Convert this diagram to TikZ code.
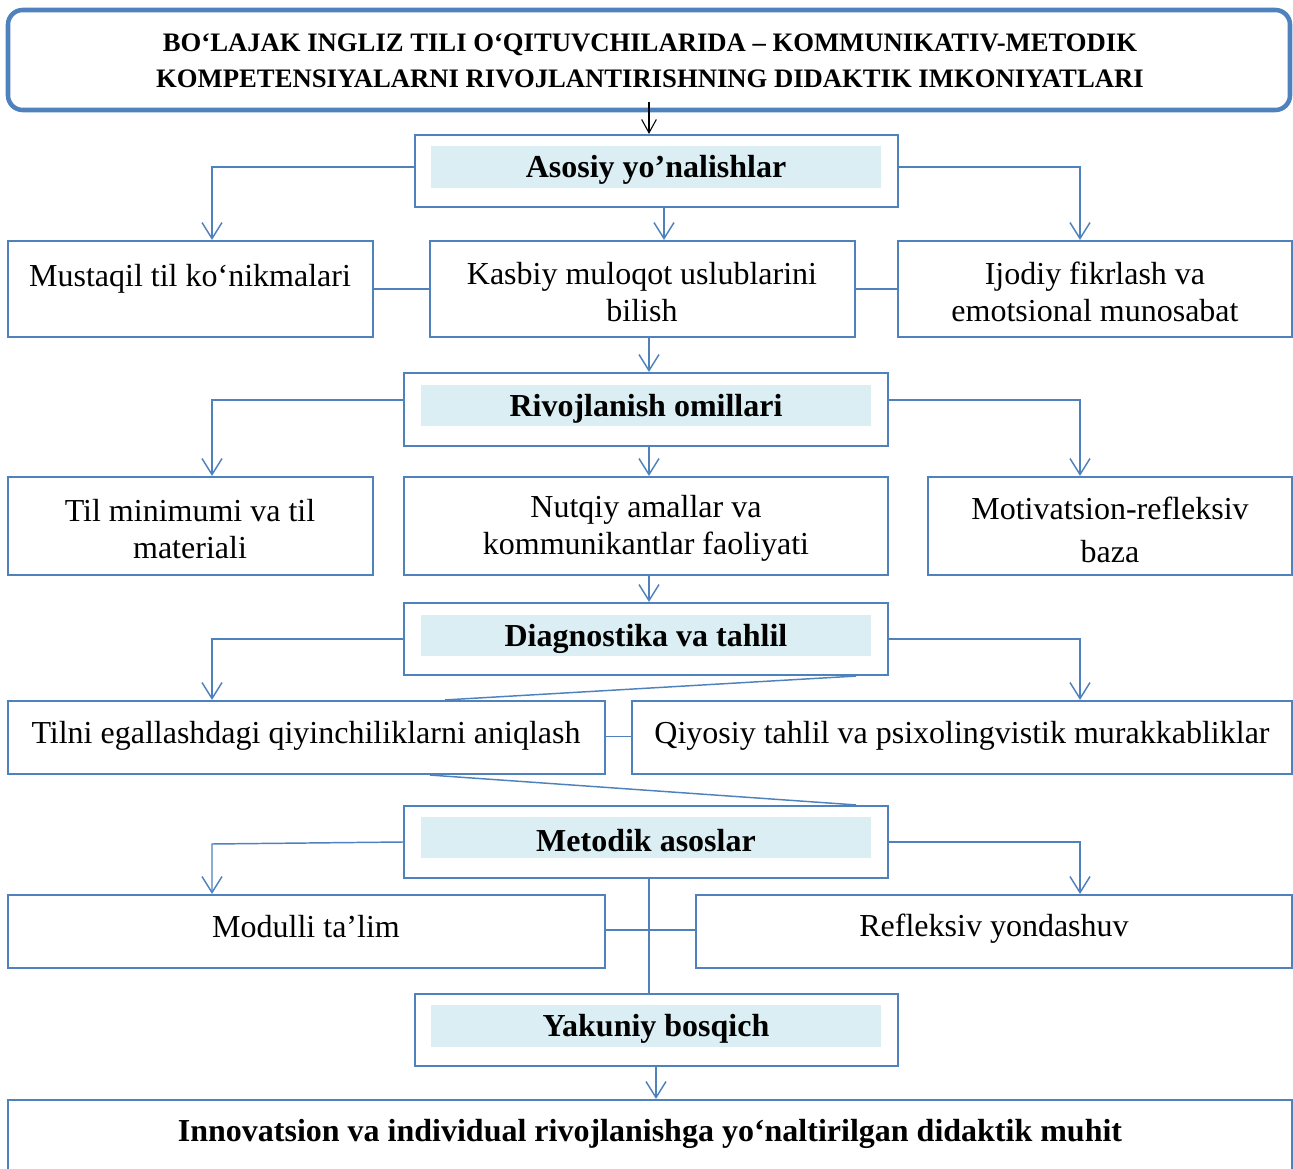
\documentclass[tikz,border=0pt]{standalone}
\usepackage{fontspec}
\setmainfont{Liberation Serif}
\usetikzlibrary{arrows.meta,fit,calc}
\definecolor{bl}{RGB}{79,129,189}
\definecolor{hfill}{RGB}{218,238,243}
\begin{document}
\begin{tikzpicture}[x=0.75pt,y=-0.75pt,
  bx/.style={draw=bl,line width=1.6pt,inner sep=0pt,rectangle},
  hf/.style={fill=hfill,inner sep=0pt,rectangle},
  tx/.style={font=\fontsize{24}{27.75}\selectfont,align=center,inner sep=0pt,yshift=-2.5pt},
  hx/.style={font=\fontsize{24}{28}\selectfont\bfseries,inner sep=0pt,yshift=-2.5pt},
  cn/.style={draw=bl,line width=1.1pt},
  ar/.style={cn,-{Straight Barb[length=12pt,width=15pt,line width=1.1pt]}}]
\clip (0,0) rectangle (1293,1169);
\useasboundingbox (0,0) rectangle (1293,1169);
\coordinate (cl) at (212,0);
\coordinate (cr) at (1080,0);
\coordinate (cx) at (649,0);
\coordinate (ca) at (664,0);
\coordinate (cy) at (656,0);

% title
\node[draw=bl,line width=3.4pt,rounded corners=11pt,inner sep=0pt,fit={(8,10) (1290,110)}] (T) {};
\node[font=\fontsize{20}{27}\selectfont\bfseries,align=center,inner sep=0pt] (Tt) at (650,61)
  {BO‘LAJAK INGLIZ TILI O‘QITUVCHILARIDA – KOMMUNIKATIV-METODIK\\KOMPETENSIYALARNI RIVOJLANTIRISHNING DIDAKTIK IMKONIYATLARI};

% header 1
\node[bx,fit={(415,135) (898,207)}] (h1) {};
\node[hf,fit={(431,146) (881,188)}] (h1f) {};
\node[hx] (h1t) at (h1f.center) {Asosiy yo’nalishlar};
\draw[black,line width=0.8pt,-{Straight Barb[length=10pt,width=11pt,line width=0.8pt]}] ([yshift=7.5pt]T.south -| cx) -- (h1.north -| cx);

% row 1
\node[bx,fit={(8,241) (373,337)}] (b1) {};
\node[tx] (b1t) at (190,275) {Mustaqil til ko‘nikmalari};
\node[bx,fit={(430,241) (855,337)}] (b2) {};
\node[tx] (b2t) at (642,288.5) {Kasbiy muloqot uslublarini\\bilish};
\node[bx,fit={(898,241) (1292,337)}] (b3) {};
\node[tx] (b3t) at (1095,288.5) {Ijodiy fikrlash va\\emotsional munosabat};
\draw[ar] (h1f.west -| h1.west) -| (cl |- b1.north);
\draw[ar] (h1.south -| ca) -- (b2.north -| ca);
\draw[ar] (h1f.east -| h1.east) -| (cr |- b3.north);
\draw[cn] (b1.east) -- (b2.west);
\draw[cn] (b2.east) -- (b3.west);

% header 2
\node[bx,fit={(404,373) (888,446)}] (h2) {};
\node[hf,fit={(421,385) (871,426)}] (h2f) {};
\node[hx] (h2t) at (h2f.center) {Rivojlanish omillari};
\draw[ar] (b2.south -| cx) -- (h2.north -| cx);

% row 2
\node[bx,fit={(8,477) (373,575)}] (r1) {};
\node[tx] (r1t) at (190,525.5) {Til minimumi va til\\materiali};
\node[bx,fit={(404,477) (888,575)}] (r2) {};
\node[tx] (r2t) at (646,525.5) {Nutqiy amallar va\\kommunikantlar faoliyati};
\node[bx,fit={(928,477) (1292,575)}] (r3) {};
\node[tx,font=\fontsize{24}{32.25}\selectfont] (r3t) at (1110,526.5) {Motivatsion-refleksiv\\baza};
\draw[ar] ([yshift=4pt]h2f.west -| h2.west) -| (cl |- r1.north);
\draw[ar] (h2.south -| cx) -- (r2.north -| cx);
\draw[ar] ([yshift=4pt]h2f.east -| h2.east) -| (cr |- r3.north);

% header 3
\node[bx,fit={(404,603) (888,675)}] (h3) {};
\node[hf,fit={(421,615) (871,656)}] (h3f) {};
\node[hx] (h3t) at (h3f.center) {Diagnostika va tahlil};
\draw[ar] (r2.south -| cx) -- (h3.north -| cx);

% row 3
\node[bx,fit={(8,701) (605,774)}] (t1) {};
\node[tx] (t1t) at (306,733) {Tilni egallashdagi qiyinchiliklarni aniqlash};
\node[bx,fit={(632,701) (1292,774)}] (t2) {};
\node[tx] (t2t) at (962,733) {Qiyosiy tahlil va psixolingvistik murakkabliklar};
\draw[ar] (h3.west) -| (cl |- t1.north);
\draw[ar] (h3.east) -| (cr |- t2.north);
\draw[cn] (t1t.east -| t1.east) -- (t1t.east -| t2.west);
\draw[cn] ([xshift=103.9pt]t1.north) -- ([xshift=-24.75pt]h3.south east);

% header 4
\node[bx,fit={(404,806) (888,878)}] (h4) {};
\node[hf,fit={(421,817) (871,858)}] (h4f) {};
\node[hx] (h4t) at (h4f.center) {Metodik asoslar};
\draw[cn] ([xshift=92.6pt]t1.south) -- ([xshift=-24.75pt]h4.north east);

% row 4
\node[bx,fit={(8,895) (605,968)}] (m1) {};
\node[tx] (m1t) at (306,923) {Modulli ta’lim};
\node[bx,fit={(696,895) (1292,968)}] (m2) {};
\node[tx] (m2t) at (994,925) {Refleksiv yondashuv};
\draw[ar] (h4.west) -- ([yshift=-1.5pt]h4.west -| cl) -- (cl |- m1.north);
\draw[ar] (h4.east) -| (cr |- m2.north);
\draw[cn,line width=1.5pt] ([yshift=1pt]m1.east) -- ([yshift=1pt]m2.west);

% header 5
\node[bx,fit={(415,994) (898,1066)}] (h5) {};
\node[hf,fit={(431,1005) (881,1047)}] (h5f) {};
\node[hx] (h5t) at (h5f.center) {Yakuniy bosqich};
\draw[cn] (h4.south -| cx) -- (h5.north -| cx);

% final
\node[bx,fit={(8,1100) (1292,1190)}] (F) {};
\node[hx] (Ft) at (650,1131) {Innovatsion va individual rivojlanishga yo‘naltirilgan didaktik muhit};
\draw[ar] (h5.south -| cy) -- (F.north -| cy);
\end{tikzpicture}
\end{document}
